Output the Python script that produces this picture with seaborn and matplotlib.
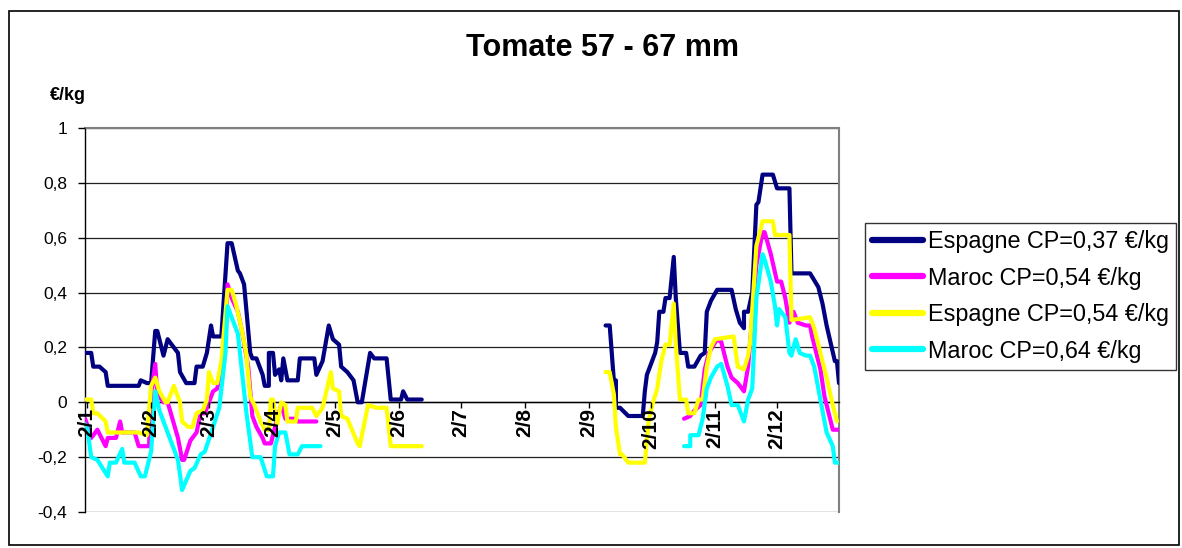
import numpy as np
import pandas as pd
import matplotlib
matplotlib.use("Agg")
import matplotlib.pyplot as plt
import matplotlib.dates as mdates
from matplotlib.lines import Line2D
from matplotlib.patches import Rectangle
from matplotlib.ticker import FuncFormatter
import seaborn as sns

# Daily margin (€/kg) per origin, day-of-year positions; two selling campaigns
esp37_days_a = [1, 4, 5, 8, 11, 12, 27, 28, 31, 33, 35, 36, 39, 41, 43, 46, 47, 50, 54, 55, 58, 60, 62, 63, 67, 70, 72, 75, 76, 78, 81, 82, 84, 87, 88, 90, 90, 92, 93, 95, 96, 97, 99, 104, 105, 112, 113, 116, 119, 121, 124, 125, 128, 131, 133, 135, 139, 141, 147, 149, 154, 155, 157, 164]
esp37_vals_a = [0.18, 0.18, 0.13, 0.13, 0.11, 0.06, 0.06, 0.08, 0.07, 0.07, 0.26, 0.26, 0.17, 0.23, 0.21, 0.18, 0.11, 0.07, 0.07, 0.13, 0.13, 0.18, 0.28, 0.24, 0.24, 0.58, 0.58, 0.48, 0.47, 0.43, 0.18, 0.16, 0.16, 0.10, 0.06, 0.06, 0.18, 0.18, 0.10, 0.12, 0.08, 0.16, 0.08, 0.08, 0.16, 0.16, 0.10, 0.15, 0.28, 0.23, 0.21, 0.13, 0.11, 0.08, 0.00, 0.00, 0.18, 0.16, 0.16, 0.01, 0.01, 0.04, 0.01, 0.01]
esp37_days_b = [253, 255, 257, 258, 258, 260, 264, 271, 272, 273, 277, 278, 279, 281, 282, 284, 286, 287, 289, 292, 293, 296, 299, 301, 302, 304, 307, 314, 316, 318, 320, 320, 322, 324, 326, 327, 329, 334, 336, 342, 343, 352, 356, 358, 360, 364, 365, 366]
esp37_vals_b = [0.28, 0.28, 0.08, 0.08, -0.02, -0.02, -0.05, -0.05, 0.04, 0.10, 0.18, 0.22, 0.33, 0.33, 0.38, 0.38, 0.53, 0.38, 0.18, 0.18, 0.13, 0.13, 0.17, 0.18, 0.33, 0.37, 0.41, 0.41, 0.34, 0.29, 0.27, 0.33, 0.33, 0.40, 0.72, 0.73, 0.83, 0.83, 0.78, 0.78, 0.47, 0.47, 0.42, 0.36, 0.28, 0.15, 0.15, 0.07]

mar54_days_a = [1, 2, 4, 7, 11, 12, 16, 18, 19, 25, 27, 32, 33, 35, 36, 39, 41, 46, 48, 49, 52, 55, 57, 59, 63, 65, 67, 69, 70, 72, 75, 77, 80, 82, 84, 87, 88, 91, 94, 96, 98, 103, 104, 113]
mar54_vals_a = [-0.06, -0.08, -0.13, -0.10, -0.16, -0.13, -0.13, -0.07, -0.11, -0.11, -0.16, -0.16, 0.03, 0.14, 0.03, 0.00, 0.00, -0.13, -0.21, -0.21, -0.14, -0.11, -0.04, -0.04, 0.04, 0.05, 0.12, 0.26, 0.43, 0.38, 0.33, 0.26, 0.13, -0.05, -0.09, -0.13, -0.15, -0.15, -0.06, -0.01, -0.06, -0.06, -0.07, -0.07]
mar54_days_b = [291, 294, 296, 299, 301, 303, 307, 309, 312, 314, 317, 320, 322, 326, 329, 330, 333, 336, 338, 340, 342, 344, 346, 350, 352, 353, 357, 359, 363, 366]
mar54_vals_b = [-0.06, -0.05, -0.03, -0.01, 0.12, 0.18, 0.23, 0.22, 0.13, 0.09, 0.07, 0.04, 0.13, 0.50, 0.62, 0.62, 0.54, 0.44, 0.44, 0.38, 0.29, 0.33, 0.29, 0.28, 0.28, 0.24, 0.12, 0.02, -0.10, -0.10]

esp54_days_a = [1, 4, 5, 7, 11, 12, 27, 31, 33, 35, 37, 40, 41, 44, 47, 48, 51, 53, 55, 58, 60, 61, 63, 65, 67, 70, 72, 74, 77, 79, 81, 83, 86, 88, 90, 91, 92, 94, 96, 98, 99, 103, 104, 111, 113, 116, 120, 121, 124, 125, 128, 133, 134, 138, 142, 147, 149, 164]
esp54_vals_a = [0.01, 0.01, -0.04, -0.04, -0.07, -0.11, -0.11, -0.12, 0.06, 0.09, 0.04, 0.00, 0.00, 0.06, 0.00, -0.07, -0.09, -0.09, -0.04, -0.03, 0.01, 0.11, 0.07, 0.07, 0.15, 0.41, 0.41, 0.36, 0.26, 0.18, 0.02, -0.01, -0.07, -0.10, -0.10, 0.01, 0.01, -0.08, 0.00, -0.01, -0.07, -0.07, -0.02, -0.02, -0.05, -0.02, 0.11, 0.05, 0.04, -0.05, -0.06, -0.15, -0.16, -0.01, -0.02, -0.02, -0.16, -0.16]
esp54_days_b = [253, 255, 257, 258, 260, 261, 264, 272, 274, 276, 278, 280, 282, 284, 286, 287, 289, 292, 293, 296, 298, 300, 302, 304, 306, 315, 317, 320, 322, 323, 326, 329, 334, 335, 342, 343, 352, 354, 357, 360, 363, 365]
esp54_vals_b = [0.11, 0.11, 0.03, -0.09, -0.19, -0.19, -0.22, -0.22, -0.06, 0.00, 0.05, 0.15, 0.21, 0.21, 0.36, 0.21, 0.01, 0.01, -0.04, -0.04, 0.01, 0.01, 0.13, 0.20, 0.23, 0.24, 0.13, 0.12, 0.17, 0.22, 0.57, 0.66, 0.66, 0.61, 0.61, 0.30, 0.31, 0.27, 0.18, 0.09, -0.01, -0.07]

mar64_days_a = [1, 2, 4, 7, 12, 13, 16, 19, 20, 25, 28, 30, 33, 35, 37, 41, 46, 48, 52, 54, 57, 59, 63, 66, 69, 70, 72, 75, 79, 82, 86, 89, 92, 93, 95, 98, 100, 104, 106, 115]
mar64_vals_a = [-0.08, -0.09, -0.20, -0.21, -0.27, -0.22, -0.22, -0.17, -0.22, -0.22, -0.27, -0.27, -0.18, 0.04, -0.03, -0.11, -0.21, -0.32, -0.25, -0.24, -0.19, -0.18, -0.09, -0.02, 0.18, 0.35, 0.31, 0.25, -0.03, -0.20, -0.20, -0.27, -0.27, -0.16, -0.11, -0.11, -0.19, -0.19, -0.16, -0.16]
mar64_days_b = [291, 294, 294, 298, 300, 302, 304, 307, 309, 312, 314, 317, 320, 322, 324, 326, 329, 330, 333, 335, 336, 337, 340, 342, 343, 345, 347, 350, 352, 354, 357, 360, 363, 364, 366]
mar64_vals_b = [-0.16, -0.16, -0.12, -0.12, -0.06, 0.05, 0.09, 0.13, 0.14, 0.06, -0.01, -0.01, -0.07, 0.01, 0.05, 0.38, 0.54, 0.52, 0.44, 0.35, 0.28, 0.34, 0.31, 0.18, 0.17, 0.23, 0.18, 0.17, 0.17, 0.13, 0.01, -0.11, -0.16, -0.22, -0.22]

series_names = ["Espagne CP=0,37 €/kg", "Maroc CP=0,54 €/kg",
                "Espagne CP=0,54 €/kg", "Maroc CP=0,64 €/kg"]
series_colors = ["#000080", "#FF00FF", "#FFFF00", "#00FFFF"]
segments = [
    (esp37_days_a, esp37_vals_a, esp37_days_b, esp37_vals_b),
    (mar54_days_a, mar54_vals_a, mar54_days_b, mar54_vals_b),
    (esp54_days_a, esp54_vals_a, esp54_days_b, esp54_vals_b),
    (mar64_days_a, mar64_vals_a, mar64_days_b, mar64_vals_b),
]
y_ticks = [-0.4, -0.2, 0, 0.2, 0.4, 0.6, 0.8, 1.0]

year_start = pd.Timestamp("2007-01-01")
rows = []
for name, (da, va, db, vb) in zip(series_names, segments):
    for seg_id, (days, vals) in enumerate([(da, va), (db, vb)]):
        dates = year_start + pd.to_timedelta(np.array(days) - 1, unit="D")
        for d, v in zip(dates, vals):
            rows.append({"date": d, "value": v, "series": name,
                         "segment": f"{name}-{seg_id}"})
df = pd.DataFrame(rows)

sns.set_style("white")
plt.rcParams["font.family"] = ["Liberation Sans", "DejaVu Sans"]
plt.rcParams["text.color"] = "black"
plt.rcParams["xtick.color"] = "black"
plt.rcParams["ytick.color"] = "black"

fig = plt.figure(figsize=(11.82, 5.48), dpi=100)
ax = fig.add_axes([85 / 1182, 1 - 512 / 548, (839 - 85) / 1182, (512 - 128) / 548])

# horizontal gridlines sit beneath the price curves
for yv in y_ticks:
    ax.axhline(yv, color="#202020", linewidth=0.9, zorder=0.5)

sns.lineplot(data=df, x="date", y="value", hue="series", units="segment",
             estimator=None, sort=False, palette=dict(zip(series_names, series_colors)),
             hue_order=series_names, linewidth=3.0, legend=False, ax=ax, zorder=2)

ax.set_xlim(year_start, pd.Timestamp("2008-01-01"))
ax.set_ylim(-0.4, 1.0)
ax.set_yticks(y_ticks)
ax.yaxis.set_major_formatter(FuncFormatter(
    lambda v, p: f"{round(v, 1):g}".replace(".", ",")))
ax.xaxis.set_major_locator(mdates.MonthLocator(bymonthday=2))
ax.xaxis.set_major_formatter(FuncFormatter(
    lambda x, p: f"{mdates.num2date(x).day}/{mdates.num2date(x).month}"))
ax.set_xlabel("")
ax.set_ylabel("")
ax.grid(False)
ax.set_axisbelow(False)

ax.spines["bottom"].set_position(("data", 0))
ax.spines["bottom"].set_color("black")
ax.spines["bottom"].set_linewidth(1.0)
ax.spines["left"].set_color("black")
ax.spines["left"].set_linewidth(1.0)
for s in ("top", "right"):
    ax.spines[s].set_color("#808080")
    ax.spines[s].set_linewidth(1.5)
for s in ax.spines.values():
    s.set_zorder(0.6)

ax.tick_params(axis="y", direction="out", length=5, width=1, labelsize=12.5,
               left=True, pad=8)
ax.tick_params(axis="x", direction="out", length=4, width=1, labelsize=15,
               bottom=True, pad=0)
for lab in ax.get_xticklabels():
    lab.set_rotation(90)
    lab.set_fontweight("bold")
    lab.set_ha("center")
    lab.set_va("top")

fig.text(0.51, 1 - 48 / 548, "Tomate 57 - 67 mm", ha="center", va="center",
         fontsize=22, fontweight="bold")
fig.text(50 / 1182, 1 - 95 / 548, "€/kg", ha="left", va="center",
         fontsize=13, fontweight="bold")

handles = [Line2D([], [], color=c, linewidth=4.5) for c in series_colors]
leg = fig.legend(handles, series_names, loc="upper left",
                 bbox_to_anchor=(865 / 1182, 1 - 223 / 548),
                 frameon=True, fancybox=False, fontsize=16.8,
                 handlelength=2.2, handletextpad=0.2, labelspacing=0.58,
                 borderpad=0.3, borderaxespad=0)
leg.get_frame().set_edgecolor("black")
leg.get_frame().set_linewidth(1.0)

fig.patches.append(Rectangle((9 / 1182, 1 - 545 / 548), (1179 - 9) / 1182,
                             (545 - 11) / 548, transform=fig.transFigure,
                             fill=False, edgecolor="black", linewidth=1.2))

fig.savefig("out.png", dpi=100)
